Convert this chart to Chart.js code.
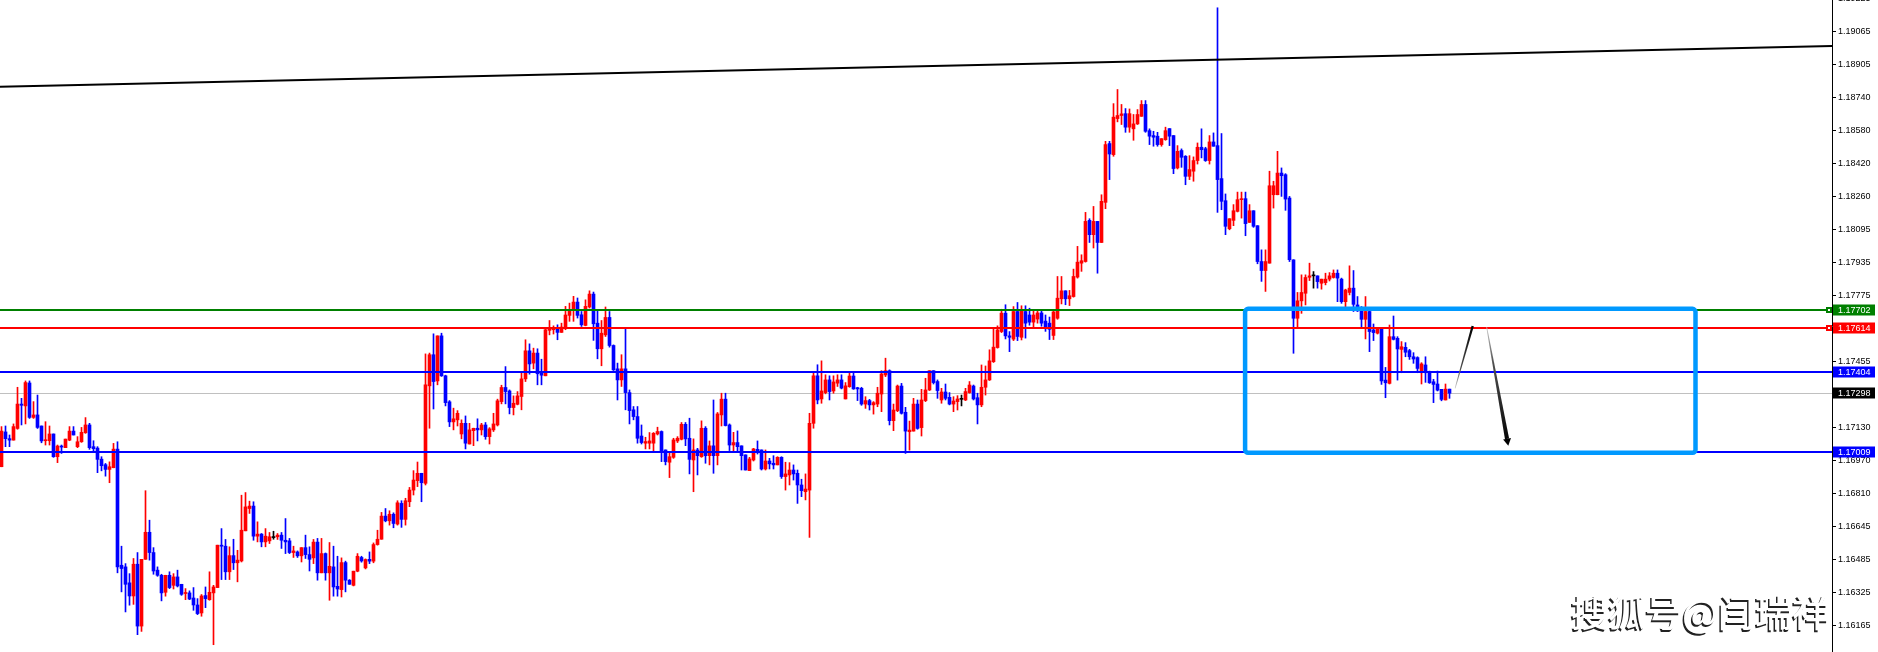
<!DOCTYPE html>
<html><head><meta charset="utf-8">
<script src="https://cdn.jsdelivr.net/npm/chart.js@4.4.1/dist/chart.umd.min.js"></script>
<style>html,body{margin:0;padding:0;background:#fff;overflow:hidden}#wrap{width:1878px;height:652px;position:relative}canvas{display:block}</style>
</head><body><div id="wrap"><canvas id="c" width="1878" height="652"></canvas></div>
<script>
// EURUSD candles (one per bar, oldest first)
const open = [1.16939,1.17109,1.17076,1.17069,1.17126,1.17245,1.17236,1.17348,1.17180,1.17192,
1.17138,1.17066,1.17066,1.17099,1.16988,1.17040,1.17032,1.17069,1.17113,1.17037,
1.17061,1.17105,1.17143,1.17037,1.17030,1.16976,1.16949,1.16926,1.16934,1.17025,
1.16458,1.16450,1.16372,1.16308,1.16463,1.16161,1.16487,1.16619,1.16520,1.16434,
1.16409,1.16326,1.16409,1.16360,1.16401,1.16365,1.16320,1.16323,1.16298,1.16264,
1.16225,1.16310,1.16290,1.16323,1.16349,1.16556,1.16551,1.16426,1.16505,1.16470,
1.16479,1.16626,1.16735,1.16747,1.16600,1.16610,1.16572,1.16577,1.16593,1.16597,
1.16605,1.16580,1.16577,1.16520,1.16523,1.16504,1.16544,1.16510,1.16494,1.16571,
1.16421,1.16515,1.16421,1.16450,1.16355,1.16339,1.16471,1.16385,1.16360,1.16429,
1.16496,1.16445,1.16487,1.16478,1.16559,1.16585,1.16698,1.16675,1.16707,1.16659,
1.16760,1.16682,1.16768,1.16825,1.16871,1.16907,1.16858,1.17334,1.17486,1.17358,
1.17578,1.17383,1.17256,1.17158,1.17168,1.17099,1.17151,1.17050,1.17115,1.17127,
1.17119,1.17143,1.17086,1.17119,1.17143,1.17257,1.17326,1.17309,1.17228,1.17244,
1.17282,1.17368,1.17505,1.17445,1.17494,1.17396,1.17383,1.17605,1.17608,1.17613,
1.17595,1.17616,1.17678,1.17701,1.17743,1.17681,1.17629,1.17719,1.17782,1.17640,
1.17515,1.17583,1.17668,1.17531,1.17417,1.17363,1.17417,1.17301,1.17217,1.17184,
1.17089,1.17054,1.17054,1.17054,1.17099,1.17111,1.17021,1.16961,1.16985,1.17065,
1.17073,1.17146,1.17078,1.16972,1.17021,1.16988,1.17127,1.16993,1.17041,1.16993,
1.17192,1.17269,1.17143,1.17045,1.17057,1.17041,1.16997,1.16920,1.16972,1.17024,
1.17021,1.16928,1.16967,1.16956,1.16948,1.16985,1.16891,1.16899,1.16923,1.16907,
1.16850,1.16817,1.16825,1.17151,1.17383,1.17270,1.17301,1.17363,1.17309,1.17347,
1.17363,1.17270,1.17330,1.17382,1.17325,1.17322,1.17245,1.17262,1.17241,1.17245,
1.17294,1.17387,1.17408,1.17164,1.17213,1.17333,1.17205,1.17110,1.17113,1.17245,
1.17130,1.17262,1.17314,1.17408,1.17355,1.17265,1.17304,1.17278,1.17245,1.17257,
1.17268,1.17265,1.17301,1.17333,1.17276,1.17241,1.17327,1.17363,1.17452,1.17521,
1.17599,1.17689,1.17578,1.17562,1.17697,1.17571,1.17697,1.17680,1.17645,1.17660,
1.17690,1.17650,1.17640,1.17580,1.17664,1.17759,1.17798,1.17759,1.17770,1.17865,
1.17933,1.17941,1.18142,1.18072,1.18137,1.18034,1.18230,1.18517,1.18463,1.18639,
1.18654,1.18663,1.18597,1.18589,1.18613,1.18650,1.18708,1.18580,1.18556,1.18553,
1.18512,1.18536,1.18590,1.18556,1.18398,1.18483,1.18455,1.18357,1.18382,1.18434,
1.18499,1.18492,1.18434,1.18525,1.18507,1.18346,1.18238,1.18101,1.18142,1.18186,
1.18243,1.18248,1.18132,1.18189,1.18116,1.17941,1.17897,1.17933,1.18267,1.18267,
1.18373,1.18365,1.18251,1.17949,1.17664,1.17749,1.17786,1.17864,1.17871,1.17871,
1.17835,1.17838,1.17855,1.17863,1.17884,1.17855,1.17745,1.17790,1.17811,1.17729,
1.17700,1.17659,1.17697,1.17607,1.17591,1.17610,1.17362,1.17346,1.17574,1.17566,
1.17512,1.17522,1.17506,1.17476,1.17472,1.17398,1.17436,1.17403,1.17354,1.17343,
1.17317,1.17265,1.17318];
const high = [1.17135,1.17138,1.17094,1.17148,1.17327,1.17273,1.17358,1.17358,1.17257,1.17289,
1.17138,1.17159,1.17138,1.17099,1.17045,1.17045,1.17074,1.17135,1.17135,1.17086,
1.17131,1.17179,1.17151,1.17066,1.17037,1.16988,1.16955,1.16963,1.17053,1.17061,
1.16551,1.16466,1.16417,1.16491,1.16520,1.16487,1.16822,1.16678,1.16544,1.16450,
1.16414,1.16409,1.16426,1.16417,1.16434,1.16365,1.16344,1.16333,1.16349,1.16295,
1.16315,1.16352,1.16426,1.16360,1.16556,1.16637,1.16584,1.16548,1.16585,1.16531,
1.16800,1.16813,1.16771,1.16768,1.16670,1.16613,1.16637,1.16618,1.16624,1.16613,
1.16618,1.16686,1.16589,1.16551,1.16528,1.16544,1.16605,1.16548,1.16584,1.16589,
1.16589,1.16518,1.16569,1.16551,1.16502,1.16494,1.16478,1.16388,1.16429,1.16515,
1.16502,1.16489,1.16523,1.16567,1.16629,1.16716,1.16735,1.16724,1.16714,1.16773,
1.16773,1.16785,1.16838,1.16920,1.16962,1.16907,1.17490,1.17494,1.17588,1.17578,
1.17591,1.17386,1.17262,1.17225,1.17213,1.17168,1.17187,1.17151,1.17127,1.17173,
1.17151,1.17155,1.17130,1.17200,1.17269,1.17337,1.17428,1.17314,1.17285,1.17306,
1.17404,1.17559,1.17539,1.17518,1.17515,1.17464,1.17613,1.17653,1.17627,1.17632,
1.17640,1.17722,1.17738,1.17771,1.17763,1.17697,1.17754,1.17798,1.17792,1.17706,
1.17653,1.17719,1.17697,1.17534,1.17445,1.17486,1.17616,1.17314,1.17233,1.17233,
1.17143,1.17083,1.17106,1.17106,1.17132,1.17114,1.17021,1.17013,1.17078,1.17086,
1.17155,1.17155,1.17176,1.17075,1.17029,1.17163,1.17135,1.17065,1.17265,1.17204,
1.17298,1.17298,1.17148,1.17107,1.17114,1.17041,1.16997,1.16985,1.17029,1.17065,
1.17021,1.17021,1.16980,1.16993,1.16988,1.16988,1.16961,1.16959,1.16948,1.16923,
1.16878,1.16904,1.17200,1.17404,1.17437,1.17456,1.17388,1.17383,1.17383,1.17388,
1.17388,1.17350,1.17404,1.17395,1.17327,1.17327,1.17281,1.17268,1.17257,1.17327,
1.17408,1.17469,1.17412,1.17245,1.17338,1.17346,1.17229,1.17162,1.17273,1.17265,
1.17317,1.17371,1.17408,1.17408,1.17363,1.17322,1.17343,1.17301,1.17281,1.17286,
1.17289,1.17322,1.17355,1.17338,1.17298,1.17436,1.17431,1.17510,1.17615,1.17627,
1.17708,1.17730,1.17599,1.17721,1.17741,1.17725,1.17725,1.17713,1.17700,1.17705,
1.17700,1.17680,1.17670,1.17700,1.17868,1.17868,1.17798,1.17800,1.17904,1.18015,
1.17974,1.18181,1.18150,1.18210,1.18137,1.18267,1.18528,1.18528,1.18712,1.18781,
1.18708,1.18688,1.18686,1.18659,1.18683,1.18727,1.18727,1.18589,1.18577,1.18572,
1.18541,1.18597,1.18590,1.18556,1.18507,1.18491,1.18458,1.18458,1.18452,1.18520,
1.18589,1.18499,1.18556,1.18569,1.19180,1.18566,1.18271,1.18150,1.18219,1.18280,
1.18280,1.18280,1.18219,1.18189,1.18116,1.17998,1.17998,1.18382,1.18333,1.18479,
1.18398,1.18370,1.18259,1.17950,1.17790,1.17876,1.17876,1.17933,1.17892,1.17871,
1.17855,1.17884,1.17887,1.17900,1.17900,1.17860,1.17806,1.17920,1.17897,1.17770,
1.17721,1.17770,1.17700,1.17636,1.17615,1.17610,1.17424,1.17631,1.17675,1.17574,
1.17550,1.17545,1.17512,1.17496,1.17476,1.17447,1.17476,1.17406,1.17366,1.17406,
1.17317,1.17343,1.17318];
const low = [1.16939,1.17037,1.17037,1.17069,1.17122,1.17143,1.17148,1.17175,1.17175,1.17126,
1.17056,1.17045,1.17045,1.16985,1.16959,1.17004,1.17032,1.17066,1.17094,1.17032,
1.17058,1.17102,1.17024,1.17017,1.16910,1.16919,1.16893,1.16861,1.16934,1.16421,
1.16328,1.16230,1.16263,1.16267,1.16119,1.16135,1.16487,1.16483,1.16414,1.16404,
1.16284,1.16307,1.16344,1.16342,1.16352,1.16311,1.16290,1.16290,1.16238,1.16217,
1.16209,1.16251,1.16287,1.16070,1.16349,1.16388,1.16388,1.16388,1.16437,1.16377,
1.16474,1.16626,1.16711,1.16580,1.16572,1.16548,1.16548,1.16564,1.16585,1.16584,
1.16540,1.16515,1.16515,1.16496,1.16496,1.16474,1.16491,1.16430,1.16466,1.16385,
1.16421,1.16385,1.16287,1.16307,1.16307,1.16303,1.16328,1.16365,1.16357,1.16426,
1.16473,1.16440,1.16466,1.16470,1.16556,1.16585,1.16670,1.16654,1.16641,1.16654,
1.16643,1.16654,1.16744,1.16801,1.16842,1.16768,1.16850,1.17127,1.17221,1.17339,
1.17380,1.17236,1.17135,1.17119,1.17138,1.17075,1.17026,1.17050,1.17042,1.17065,
1.17094,1.17073,1.17050,1.17111,1.17138,1.17246,1.17246,1.17197,1.17192,1.17241,
1.17217,1.17355,1.17391,1.17417,1.17339,1.17339,1.17383,1.17583,1.17587,1.17559,
1.17595,1.17608,1.17649,1.17649,1.17665,1.17624,1.17627,1.17714,1.17556,1.17466,
1.17432,1.17575,1.17523,1.17409,1.17265,1.17331,1.17217,1.17148,1.17168,1.17054,
1.17050,1.17026,1.17026,1.17013,1.17094,1.16964,1.16948,1.16886,1.16980,1.17057,
1.17070,1.17042,1.16904,1.16817,1.16899,1.16985,1.16956,1.16948,1.16907,1.16948,
1.17138,1.17138,1.17018,1.17013,1.17013,1.16923,1.16923,1.16920,1.16967,1.17001,
1.16923,1.16923,1.16928,1.16928,1.16948,1.16882,1.16825,1.16850,1.16874,1.16760,
1.16793,1.16777,1.16594,1.17127,1.17246,1.17249,1.17295,1.17265,1.17298,1.17331,
1.17319,1.17270,1.17327,1.17317,1.17262,1.17239,1.17224,1.17216,1.17196,1.17232,
1.17208,1.17379,1.17143,1.17115,1.17208,1.17196,1.17004,1.17020,1.17113,1.17122,
1.17089,1.17257,1.17311,1.17343,1.17273,1.17249,1.17265,1.17241,1.17208,1.17216,
1.17236,1.17262,1.17298,1.17265,1.17148,1.17232,1.17289,1.17360,1.17448,1.17518,
1.17594,1.17563,1.17501,1.17555,1.17555,1.17558,1.17567,1.17630,1.17620,1.17640,
1.17625,1.17600,1.17560,1.17560,1.17659,1.17734,1.17730,1.17726,1.17767,1.17860,
1.17893,1.17938,1.18034,1.18007,1.17884,1.18034,1.18199,1.18341,1.18455,1.18623,
1.18610,1.18572,1.18572,1.18533,1.18610,1.18650,1.18572,1.18512,1.18504,1.18504,
1.18504,1.18533,1.18507,1.18370,1.18393,1.18401,1.18316,1.18341,1.18333,1.18417,
1.18447,1.18430,1.18417,1.18504,1.18181,1.18194,1.18072,1.18096,1.18116,1.18183,
1.18153,1.18067,1.18132,1.18108,1.17930,1.17844,1.17795,1.17933,1.18202,1.18267,
1.18259,1.18191,1.17941,1.17493,1.17620,1.17688,1.17729,1.17848,1.17811,1.17811,
1.17806,1.17827,1.17846,1.17860,1.17745,1.17737,1.17701,1.17778,1.17697,1.17697,
1.17615,1.17563,1.17501,1.17555,1.17587,1.17341,1.17276,1.17343,1.17558,1.17362,
1.17398,1.17476,1.17463,1.17444,1.17398,1.17343,1.17351,1.17346,1.17252,1.17309,
1.17261,1.17265,1.17273];
const close = [1.17113,1.17076,1.17069,1.17135,1.17245,1.17239,1.17350,1.17180,1.17192,1.17131,
1.17065,1.17069,1.17099,1.16988,1.17040,1.17035,1.17074,1.17113,1.17094,1.17061,
1.17107,1.17143,1.17032,1.17027,1.16975,1.16944,1.16926,1.16939,1.17025,1.16450,
1.16442,1.16365,1.16308,1.16463,1.16161,1.16487,1.16619,1.16520,1.16430,1.16409,
1.16323,1.16409,1.16349,1.16401,1.16357,1.16316,1.16323,1.16293,1.16264,1.16222,
1.16308,1.16295,1.16326,1.16352,1.16556,1.16551,1.16426,1.16505,1.16470,1.16483,
1.16629,1.16743,1.16747,1.16600,1.16610,1.16572,1.16600,1.16597,1.16593,1.16605,
1.16580,1.16572,1.16520,1.16528,1.16504,1.16544,1.16510,1.16487,1.16571,1.16421,
1.16515,1.16421,1.16453,1.16352,1.16342,1.16471,1.16385,1.16365,1.16429,1.16502,
1.16479,1.16486,1.16478,1.16559,1.16585,1.16698,1.16675,1.16707,1.16662,1.16763,
1.16682,1.16773,1.16825,1.16874,1.16907,1.16861,1.17339,1.17486,1.17355,1.17578,
1.17383,1.17252,1.17158,1.17173,1.17200,1.17151,1.17054,1.17119,1.17127,1.17119,
1.17143,1.17086,1.17124,1.17148,1.17261,1.17326,1.17306,1.17228,1.17249,1.17285,
1.17368,1.17505,1.17441,1.17494,1.17393,1.17386,1.17608,1.17613,1.17613,1.17595,
1.17621,1.17680,1.17706,1.17743,1.17678,1.17632,1.17722,1.17782,1.17637,1.17515,
1.17591,1.17668,1.17531,1.17412,1.17363,1.17417,1.17301,1.17213,1.17184,1.17078,
1.17057,1.17062,1.17065,1.17102,1.17111,1.17013,1.16964,1.16988,1.17070,1.17078,
1.17146,1.17075,1.16975,1.17021,1.16993,1.17127,1.16993,1.17041,1.16993,1.17197,
1.17269,1.17140,1.17045,1.17057,1.17037,1.16993,1.16923,1.16977,1.17026,1.17013,
1.16928,1.16967,1.16953,1.16948,1.16985,1.16891,1.16904,1.16923,1.16904,1.16850,
1.16822,1.16830,1.17151,1.17383,1.17265,1.17309,1.17363,1.17306,1.17353,1.17363,
1.17323,1.17334,1.17382,1.17319,1.17319,1.17245,1.17262,1.17241,1.17252,1.17298,
1.17392,1.17408,1.17164,1.17216,1.17333,1.17200,1.17113,1.17118,1.17245,1.17126,
1.17265,1.17314,1.17408,1.17350,1.17311,1.17304,1.17273,1.17245,1.17260,1.17270,
1.17268,1.17306,1.17338,1.17270,1.17241,1.17327,1.17363,1.17456,1.17523,1.17607,
1.17689,1.17578,1.17571,1.17697,1.17575,1.17705,1.17640,1.17645,1.17680,1.17690,
1.17640,1.17620,1.17610,1.17695,1.17762,1.17798,1.17759,1.17774,1.17868,1.17938,
1.17945,1.18137,1.18072,1.18137,1.18034,1.18235,1.18512,1.18466,1.18646,1.18654,
1.18662,1.18597,1.18663,1.18613,1.18659,1.18708,1.18577,1.18553,1.18548,1.18512,
1.18541,1.18580,1.18553,1.18395,1.18479,1.18450,1.18357,1.18390,1.18434,1.18499,
1.18487,1.18434,1.18525,1.18504,1.18341,1.18235,1.18113,1.18150,1.18189,1.18243,
1.18248,1.18126,1.18189,1.18113,1.17941,1.17897,1.17941,1.18311,1.18311,1.18373,
1.18360,1.18246,1.17950,1.17664,1.17749,1.17790,1.17863,1.17871,1.17871,1.17843,
1.17855,1.17855,1.17871,1.17884,1.17860,1.17745,1.17802,1.17811,1.17732,1.17700,
1.17659,1.17697,1.17599,1.17594,1.17610,1.17358,1.17349,1.17574,1.17561,1.17514,
1.17525,1.17498,1.17476,1.17465,1.17419,1.17441,1.17398,1.17349,1.17341,1.17313,
1.17268,1.17318,1.17298];

// price-axis tick labels
const tickValues = [1.19225,1.19065,1.18905,1.18740,1.18580,1.18420,1.18260,1.18095,1.17935,1.17775,
  1.17455,1.17130,1.16970,1.16810,1.16645,1.16485,1.16325,1.16165];
// horizontal levels with their price tags
const levelPrices = [1.17702, 1.17614, 1.17404, 1.17298, 1.17009];
const levelColors = ['#008000', '#ff0000', '#0000ff', '#c0c0c0', '#0000ff'];
const levelTagColors = ['#008000', '#ff0000', '#0000ff', '#000000', '#0000ff'];
// trend line (bar index, price)
const trendX = [-0.375, 457.625];
const trendY = [1.18795, 1.18994];
// zone rectangle (bar index range, price range)
const zoneX = [310.9, 423.5];
const zoneY = [1.17710, 1.17007];
// projected path arrows (bar index, price)
const arrow1X = [363.4, 367.8], arrow1Y = [1.17322, 1.17626];
const arrow2X = [371.3, 376.7], arrow2Y = [1.17620, 1.17042];
const watermark = '搜狐号@闫瑞祥';

const Y_MAX = 1.19218, Y_MIN = 1.160344;
const X_MIN = -0.375, X_MAX = 457.625;

const idx = open.map((_, i) => i);
const candleColor = (i) => close[i] > open[i] ? '#ff0000' : (close[i] < open[i] ? '#0000ff' : '#000000');

const overlay = {
  id: 'overlay',
  beforeDraw(chart) {
    const c = chart.ctx; c.save(); c.fillStyle = '#fff'; c.fillRect(0, 0, chart.width, chart.height); c.restore();
  },
  beforeDatasetsDraw(chart) {
    const c = chart.ctx, a = chart.chartArea, ys = chart.scales.y;
    c.save();
    levelPrices.forEach((p, k) => {
      if (levelColors[k] !== '#c0c0c0') return;
      const y = Math.round(ys.getPixelForValue(p));
      c.fillStyle = levelColors[k]; c.fillRect(a.left, y, a.right - a.left, 1);
    });
    c.restore();
  },
  afterDatasetsDraw(chart) {
    const c = chart.ctx, a = chart.chartArea, xs = chart.scales.x, ys = chart.scales.y;
    c.save();
    c.beginPath(); c.rect(a.left, a.top, a.right - a.left, a.bottom - a.top); c.clip();
    levelPrices.forEach((p, k) => {
      if (levelColors[k] === '#c0c0c0') return;
      const y = Math.round(ys.getPixelForValue(p));
      c.fillStyle = levelColors[k]; c.fillRect(a.left, y - 1, a.right - a.left, 2);
    });
    // zone rectangle
    const x0 = xs.getPixelForValue(zoneX[0]), x1 = xs.getPixelForValue(zoneX[1]);
    const y0 = ys.getPixelForValue(zoneY[0]), y1 = ys.getPixelForValue(zoneY[1]);
    c.strokeStyle = '#0099ff'; c.lineWidth = 4.5; c.lineJoin = 'round';
    c.beginPath(); c.roundRect(x0, y0, x1 - x0, y1 - y0, 3); c.stroke();
    // tapered arrows
    const taper = (xa, ya, xb, yb, w0, w1, head) => {
      const X0 = xs.getPixelForValue(xa), Y0 = ys.getPixelForValue(ya);
      const X1 = xs.getPixelForValue(xb), Y1 = ys.getPixelForValue(yb);
      const dx = X1 - X0, dy = Y1 - Y0, L = Math.hypot(dx, dy), ux = dx / L, uy = dy / L, nx = -uy, ny = ux;
      const g = c.createLinearGradient(X0, Y0, X1, Y1);
      g.addColorStop(0, '#c8c8c8'); g.addColorStop(0.3, '#505050'); g.addColorStop(1, '#000');
      c.fillStyle = g;
      const Xe = head ? X1 - ux * 7 : X1, Ye = head ? Y1 - uy * 7 : Y1;
      c.beginPath();
      c.moveTo(X0 + nx * w0 / 2, Y0 + ny * w0 / 2);
      c.lineTo(Xe + nx * w1 / 2, Ye + ny * w1 / 2);
      c.lineTo(Xe - nx * w1 / 2, Ye - ny * w1 / 2);
      c.lineTo(X0 - nx * w0 / 2, Y0 - ny * w0 / 2);
      c.closePath(); c.fill();
      if (head) {
        c.fillStyle = '#000';
        c.beginPath();
        c.moveTo(X1, Y1);
        c.lineTo(Xe + nx * 4, Ye + ny * 4);
        c.lineTo(Xe - nx * 4, Ye - ny * 4);
        c.closePath(); c.fill();
      }
    };
    taper(arrow1X[0], arrow1Y[0], arrow1X[1], arrow1Y[1], 0.7, 2.4, false);
    taper(arrow2X[0], arrow2Y[0], arrow2X[1], arrow2Y[1], 0.8, 4.2, true);
    c.restore();
  },
  afterDraw(chart) {
    const c = chart.ctx, a = chart.chartArea, ys = chart.scales.y;
    c.save();
    // small anchor squares for green/red levels
    [0, 1].forEach(k => {
      const y = Math.round(ys.getPixelForValue(levelPrices[k]));
      c.fillStyle = levelColors[k]; c.fillRect(a.right - 6, y - 3, 6, 6);
      c.fillStyle = '#fff'; c.fillRect(a.right - 4, y - 1, 2, 2);
    });
    // price tags
    c.font = '9px "Liberation Sans", Arial, sans-serif';
    c.textBaseline = 'middle'; c.textAlign = 'left';
    levelPrices.forEach((p, k) => {
      const y = Math.round(ys.getPixelForValue(p));
      c.fillStyle = levelTagColors[k]; c.fillRect(a.right + 1, y - 5.5, 42, 11);
      c.fillStyle = '#fff'; c.fillText(p.toFixed(5), a.right + 6, y + 0.5);
    });
    // watermark
    c.font = '500 37px "Noto Sans CJK SC", sans-serif';
    c.textAlign = 'right'; c.textBaseline = 'middle';
    c.fillStyle = '#222'; c.fillText(watermark, 1829 - 1.5, 613 + 1.5);
    c.fillStyle = '#fff'; c.fillText(watermark, 1829, 613);
    c.restore();
  }
};

new Chart(document.getElementById('c'), {
  data: {
    datasets: [
      { type: 'line', data: trendX.map((x, k) => ({ x, y: trendY[k] })), borderColor: '#000', borderWidth: 2,
        pointRadius: 0, order: -1, clip: 0 },
      { type: 'bar', label: 'body', data: idx.map(i => ({ x: i, y: [open[i], close[i]] })),
        backgroundColor: ctx => candleColor(ctx.dataIndex), borderWidth: 0, barThickness: 3, minBarLength: 1,
        grouped: false, order: 0 },
      { type: 'bar', label: 'wick', data: idx.map(i => ({ x: i, y: [low[i], high[i]] })),
        backgroundColor: ctx => candleColor(ctx.dataIndex), borderWidth: 0, barThickness: 1,
        grouped: false, order: 1 }
    ]
  },
  options: {
    responsive: false, animation: false, devicePixelRatio: 1,
    layout: { padding: 0 },
    plugins: { legend: { display: false }, tooltip: { enabled: false } },
    scales: {
      x: { type: 'linear', display: false, min: X_MIN, max: X_MAX, offset: false, grid: { display: false } },
      y: {
        position: 'right', min: Y_MIN, max: Y_MAX,
        afterBuildTicks: s => { s.ticks = tickValues.map(v => ({ value: v })); },
        afterFit: s => { s.width = 46; s.paddingTop = 0; s.paddingBottom = 0; },
        grid: { drawOnChartArea: false, drawTicks: true, tickLength: 4, color: '#000', tickColor: '#000', lineWidth: 1 },
        border: { display: true, color: '#000', width: 1 },
        ticks: { padding: 2, color: '#000', autoSkip: false, crossAlign: 'near',
          font: { family: '"Liberation Sans", Arial, sans-serif', size: 9 },
          callback: v => Number(v).toFixed(5) }
      }
    }
  },
  plugins: [overlay]
});
</script>
</body></html>
